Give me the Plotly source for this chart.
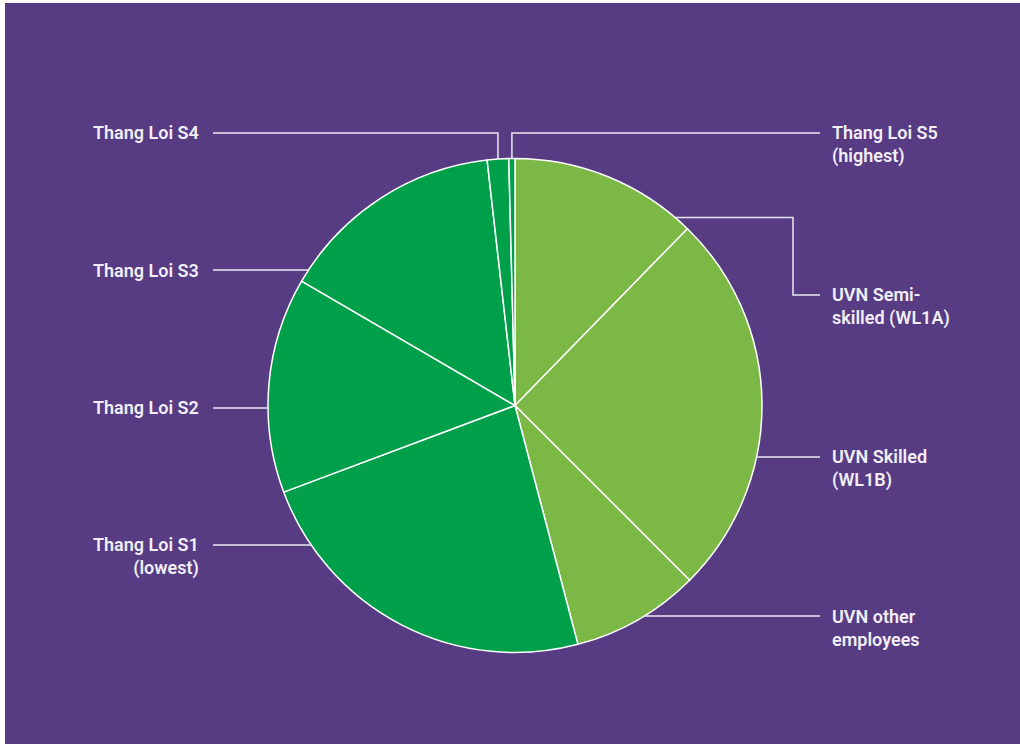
import math
import plotly.graph_objects as go

# ---- data ----
categories = ["UVN Semi-skilled (WL1A)", "UVN Skilled (WL1B)", "UVN other employees",
              "Thang Loi S1 (lowest)", "Thang Loi S2", "Thang Loi S3",
              "Thang Loi S4", "Thang Loi S5 (highest)"]
label_text = ["UVN Semi-<br>skilled (WL1A)", "UVN Skilled<br>(WL1B)", "UVN other<br>employees",
              "Thang Loi S1<br>(lowest)", "Thang Loi S2", "Thang Loi S3",
              "Thang Loi S4", "Thang Loi S5<br>(highest)"]
values = [12.3, 25.2, 8.4, 23.4, 14.1, 14.8, 1.4, 0.4]

# ---- style / layout constants ----
LIGHT = "#7cb846"
DARK = "#00a04a"
PURPLE = "#573b83"
TEXT = "#f1eef6"
LINE = "#ece8f2"
colors = [LIGHT, LIGHT, LIGHT, DARK, DARK, DARK, DARK, DARK]

W, H = 1020, 744
CX, CY, R = 515, 405.5, 247
label_y = [295, 457, 616, 545, 408, 270, 133, 133]
side = ["r", "r", "r", "l", "l", "l", "l", "r"]
kind = ["elbow", "h", "h", "h", "h", "h", "v", "v"]
ELBOW_Y, ELBOW_X = 217.5, 793
LEFT_END, RIGHT_END = 213, 820
LEFT_TXT, RIGHT_TXT = 201, 830
FSIZE = 18
FONT = dict(family="Roboto, 'Open Sans', sans-serif", size=FSIZE, color=TEXT, weight=600)
LINE_H = FSIZE * 1.3


def px(x):
    return x / W


def py(y):
    return 1 - y / H


fig = go.Figure(go.Pie(
    labels=categories, values=values, sort=False, direction="clockwise", rotation=0,
    marker=dict(colors=colors, line=dict(color="white", width=1.5)),
    textinfo="none", hoverinfo="label+percent", showlegend=False,
    domain=dict(x=[px(CX - R), px(CX + R)], y=[py(CY + R), py(CY - R)]),
))

shapes = [dict(type="rect", xref="paper", yref="paper", x0=px(5), x1=1, y0=0, y1=py(3),
               fillcolor=PURPLE, line=dict(width=0), layer="below")]
annotations = []

total = sum(values)
cum = 0.0
for i, v in enumerate(values):
    mid = (cum + v / 2) / total * 2 * math.pi
    cum += v
    ly = label_y[i]
    end_x = RIGHT_END if side[i] == "r" else LEFT_END
    sgn = 1 if side[i] == "r" else -1
    if kind[i] == "h":
        sx = CX + sgn * math.sqrt(R ** 2 - (ly - CY) ** 2)
        pts = [(sx, ly), (end_x, ly)]
    elif kind[i] == "elbow":
        sx = CX + sgn * math.sqrt(R ** 2 - (ELBOW_Y - CY) ** 2)
        pts = [(sx, ELBOW_Y), (ELBOW_X, ELBOW_Y), (ELBOW_X, ly), (end_x, ly)]
    else:
        vx = CX + R * math.sin(mid)
        vy = CY - math.sqrt(R ** 2 - (vx - CX) ** 2)
        pts = [(vx, vy), (vx, ly), (end_x, ly)]
    path = "M " + " L ".join(f"{px(x):.5f},{py(y):.5f}" for x, y in pts)
    shapes.append(dict(type="path", xref="paper", yref="paper", path=path,
                       line=dict(color=LINE, width=1.5)))
    nlines = label_text[i].count("<br>") + 1
    yc = ly + (nlines - 1) * LINE_H / 2
    annotations.append(dict(
        xref="paper", yref="paper", x=px(RIGHT_TXT if side[i] == "r" else LEFT_TXT), y=py(yc),
        xanchor="left" if side[i] == "r" else "right", yanchor="middle",
        align="left" if side[i] == "r" else "right",
        text=label_text[i], showarrow=False, font=FONT))

fig.update_layout(width=W, height=H, margin=dict(l=0, r=0, t=0, b=0),
                  paper_bgcolor="white", plot_bgcolor="white",
                  shapes=shapes, annotations=annotations)

fig.write_html("out.html", config={"displayModeBar": False},
               post_script="document.body.style.margin='0';")
